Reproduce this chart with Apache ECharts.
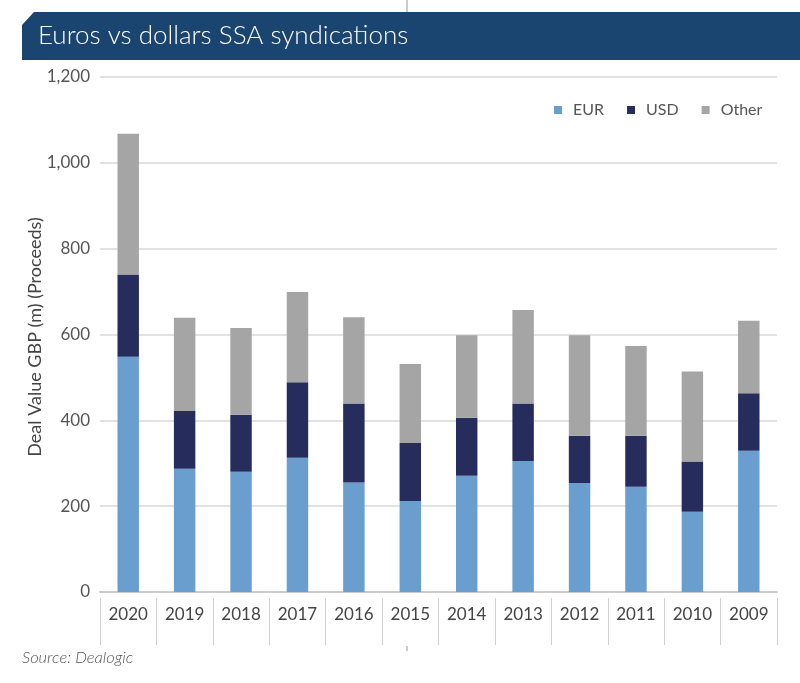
<!DOCTYPE html>
<html>
<head>
<meta charset="utf-8">
<script src="https://cdn.jsdelivr.net/npm/echarts@6/dist/echarts.min.js"></script>
<style>
html,body{margin:0;padding:0;background:#fff;}
#chart{width:800px;height:683px;}
</style>
</head>
<body>
<div id="chart"></div>
<script>
const categories = ['2020','2019','2018','2017','2016','2015','2014','2013','2012','2011','2010','2009'];
const eurValues   = [548, 287, 280, 313, 255, 212, 271, 305, 254, 245, 187, 329];
const usdValues   = [192, 135, 133, 176, 184, 135, 135, 134, 110, 119, 117, 134];
const otherValues = [328, 217, 202, 210, 201, 184, 192, 218, 234, 209, 210, 169];
const yTicks = [0, 200, 400, 600, 800, 1000, 1200];

const FONT = 'Lato, "Open Sans", sans-serif';
const chart = echarts.init(document.getElementById('chart'));

chart.setOption({
  animation: false,
  backgroundColor: '#ffffff',
  textStyle: { fontFamily: FONT },
  grid: { left: 100, right: 23, top: 77, bottom: 91, containLabel: false },
  legend: {
    data: ['EUR', 'USD', 'Other'],
    top: 97, left: 549,
    itemWidth: 8, itemHeight: 8, itemGap: 23,
    icon: 'rect',
    textStyle: { fontFamily: FONT, fontSize: 16, color: '#555', padding: [0, 0, 0, 6] }
  },
  xAxis: [{
    type: 'category',
    data: categories,
    axisLine: { show: true, lineStyle: { color: '#cccccc', width: 2 } },
    axisTick: { show: false },
    axisLabel: { margin: 14, fontSize: 17, color: '#444', fontFamily: FONT }
  }, {
    type: 'category',
    data: categories,
    position: 'bottom',
    offset: 6,
    axisLine: { show: false },
    axisTick: { show: true, length: 47, lineStyle: { color: '#d0d0d0', width: 1 } },
    axisLabel: { show: false }
  }],
  yAxis: {
    type: 'value',
    min: 0, max: 1200, interval: 200,
    axisLine: { show: false },
    axisTick: { show: false },
    axisLabel: {
      margin: 10, fontSize: 17, color: '#555', fontFamily: FONT,
      formatter: v => yTicks.includes(v) ? v.toLocaleString('en-US') : ''
    },
    splitLine: { lineStyle: { color: '#d9d9d9', width: 1.5 } }
  },
  series: [
    { name: 'EUR', type: 'bar', stack: 'total', data: eurValues, barWidth: '38%',
      itemStyle: { color: '#6a9ecf' } },
    { name: 'USD', type: 'bar', stack: 'total', data: usdValues, barWidth: '38%',
      itemStyle: { color: '#262d5c' } },
    { name: 'Other', type: 'bar', stack: 'total', data: otherValues, barWidth: '38%',
      itemStyle: { color: '#a5a5a5' } }
  ],
  graphic: [
    { type: 'line', shape: { x1: 407, y1: 0, x2: 407, y2: 12 }, style: { stroke: '#999', lineWidth: 1 } },
    { type: 'polygon', shape: { points: [[22,25],[34,12],[800,12],[800,60],[22,60]] },
      style: { fill: '#1b4571' } },
    { type: 'text', x: 38, y: 36,
      style: { text: 'Euros vs dollars SSA syndications', fill: '#ffffff',
               font: '300 26px ' + FONT, verticalAlign: 'middle', align: 'left' } },
    { type: 'text', x: 35, y: 337, rotation: Math.PI / 2,
      style: { text: 'Deal Value GBP (m) (Proceeds)', fill: '#444',
               font: '18px ' + FONT, align: 'center', verticalAlign: 'middle' } },
    { type: 'line', shape: { x1: 407, y1: 646, x2: 407, y2: 651 }, style: { stroke: '#999', lineWidth: 1 } },
    { type: 'text', x: 22, y: 658,
      style: { text: 'Source: Dealogic', fill: '#555', font: 'italic 300 16.5px ' + FONT,
               verticalAlign: 'middle', align: 'left' } }
  ]
});
</script>
</body>
</html>
